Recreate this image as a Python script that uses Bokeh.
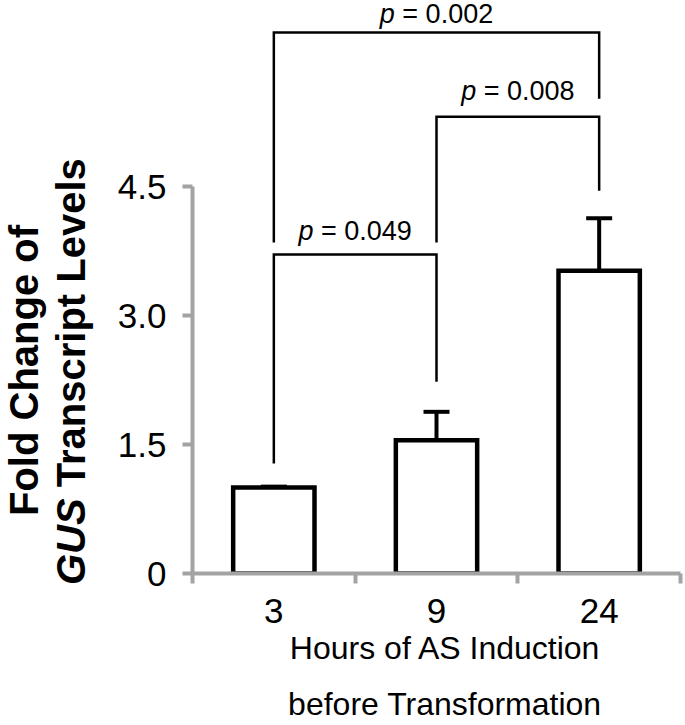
import math
from bokeh.plotting import figure
from bokeh.layouts import row, column
from bokeh.models import (Range1d, FixedTicker, LinearAxis, Whisker,
                          ColumnDataSource, TeeHead)
from bokeh.core.properties import value
from bokeh.embed import file_html
from bokeh.resources import INLINE

# ---------------- data ----------------
categories = ["3", "9", "24"]
means = [1.0, 1.55, 3.52]
errors = [0.01, 0.33, 0.61]

y_ticks = [0, 1.5, 3.0, 4.5]
y_tick_labels = ["0", "1.5", "3.0", "4.5"]

cmp_left = [0, 1, 0]
cmp_right = [1, 2, 2]
p_values = ["0.049", "0.008", "0.002"]
bracket_top = [3.71, 5.31, 6.29]
bracket_left_end = [1.28, 3.85, 3.85]
bracket_right_end = [2.23, 4.45, 5.52]
p_text_y = [3.88, 5.50, 6.40]

x_title_lines = ["Hours of AS Induction", "before Transformation"]
y_title_line1 = "Fold Change of"
y_title_gene = "GUS"
y_title_rest = "Transcript Levels"

# ---------------- layout constants ----------------
TOTAL_W, TOTAL_H = 685, 725
YT_W = 100                 # strip for the y-axis title (full height)
MAIN_W = TOTAL_W - YT_W
MAIN_H = 628
XT_H = TOTAL_H - MAIN_H    # strip for the x-axis title (under the plot)
M_LEFT, M_RIGHT, M_TOP = 92, 5, 0
M_BOTTOM = MAIN_H - 573
FRAME_W = MAIN_W - M_LEFT - M_RIGHT
FRAME_H = MAIN_H - M_TOP - M_BOTTOM
PX_PER_Y = 86.0
Y_MAX = FRAME_H / PX_PER_Y
PX_PER_X = FRAME_W / 3.0
BASE_FIX = 0.34            # measured drop of an "alphabetic" baseline, in em

FONT = "Liberation Sans"
GRAY = "#a3a3a3"

REG = {"p": 0.556, " ": 0.278, "=": 0.584, ".": 0.278, "H": 0.722, "o": 0.556,
       "u": 0.556, "r": 0.333, "s": 0.5, "f": 0.278, "A": 0.667, "S": 0.667,
       "I": 0.278, "n": 0.556, "d": 0.556, "c": 0.5, "t": 0.278, "i": 0.222,
       "b": 0.556, "e": 0.556, "T": 0.611, "a": 0.556, "m": 0.833}
for d in "0123456789":
    REG[d] = 0.556
BOLD = {"G": 0.778, "U": 0.722, "S": 0.667, " ": 0.278, "T": 0.611, "r": 0.389,
        "a": 0.556, "n": 0.611, "s": 0.556, "c": 0.556, "i": 0.278, "p": 0.611,
        "t": 0.333, "L": 0.611, "e": 0.556, "v": 0.556, "l": 0.278, "F": 0.611,
        "o": 0.611, "d": 0.611, "C": 0.722, "h": 0.611, "g": 0.611, "f": 0.333}


def tw(s, size, table):
    return sum(table.get(ch, 0.556) for ch in s) * size


def strip(w, h, xr, yr):
    f = figure(width=w, height=h, x_range=Range1d(*xr), y_range=Range1d(*yr),
               output_backend="svg", toolbar_location=None, min_border=0,
               min_border_left=0, min_border_right=0, min_border_top=0,
               min_border_bottom=0, x_axis_type=None, y_axis_type=None)
    f.outline_line_color = None
    f.background_fill_color = "white"
    f.border_fill_color = "white"
    return f


# ---------------- main plot ----------------
p = figure(width=MAIN_W, height=MAIN_H, x_range=Range1d(0, 3), y_range=Range1d(0, Y_MAX),
           output_backend="svg", toolbar_location=None, min_border=0,
           min_border_left=M_LEFT, min_border_right=M_RIGHT, min_border_top=M_TOP,
           min_border_bottom=M_BOTTOM, x_axis_type=None, y_axis_type=None)
p.outline_line_color = None
p.background_fill_color = "white"
p.border_fill_color = "white"

yax = LinearAxis(ticker=FixedTicker(ticks=y_ticks, minor_ticks=[]), bounds=(0, 4.5))
yax.major_label_overrides = {float(t): l for t, l in zip(y_ticks, y_tick_labels)}
yax.axis_line_color = GRAY
yax.axis_line_width = 4
yax.major_tick_line_color = GRAY
yax.major_tick_line_width = 4
yax.major_tick_out = 10
yax.major_tick_in = 0
yax.minor_tick_line_color = None
yax.major_label_text_font = FONT
yax.major_label_text_font_size = "35px"
yax.major_label_text_color = "black"
yax.major_label_standoff = 16
p.add_layout(yax, "left")

centers = [i + 0.5 for i in range(len(categories))]
xax = LinearAxis(ticker=FixedTicker(ticks=centers,
                                    minor_ticks=list(range(len(categories) + 1))),
                 bounds=(0, len(categories)))
xax.major_label_overrides = {float(c): lab for c, lab in zip(centers, categories)}
xax.axis_line_color = GRAY
xax.axis_line_width = 4
xax.major_tick_line_color = None
xax.major_tick_out = 0
xax.major_tick_in = 0
xax.minor_tick_line_color = GRAY
xax.minor_tick_line_width = 4
xax.minor_tick_out = 10
xax.minor_tick_in = 0
xax.major_label_text_font = FONT
xax.major_label_text_font_size = "35px"
xax.major_label_text_color = "black"
xax.major_label_standoff = 15
p.add_layout(xax, "below")

src = ColumnDataSource(dict(
    x=centers, top=means,
    upper=[m + e for m, e in zip(means, errors)],
    lower=[m - e for m, e in zip(means, errors)],
))
p.vbar(x="x", top="top", width=0.5, source=src, fill_color="white",
       line_color="black", line_width=4.5, line_join="miter")

wh = Whisker(base="x", upper="upper", lower="lower", source=src,
             line_color="black", line_width=4,
             upper_head=TeeHead(size=26, line_width=4, line_color="black"),
             lower_head=TeeHead(size=26, line_width=4, line_color="black"))
p.add_layout(wh)

xs, ys = [], []
for l, r, t, le, re_ in zip(cmp_left, cmp_right, bracket_top, bracket_left_end, bracket_right_end):
    xl, xr = centers[l], centers[r]
    xs.append([xl, xl, xr, xr])
    ys.append([le, t, t, re_])
p.multi_line(xs=xs, ys=ys, line_color="black", line_width=2.5, line_join="miter")

P_SIZE = 27
p_fix = BASE_FIX * P_SIZE / PX_PER_Y
px, py, pt, rx, ry, rt = [], [], [], [], [], []
for l, r, v, y in zip(cmp_left, cmp_right, p_values, p_text_y):
    cx = (centers[l] + centers[r]) / 2
    rest = "= " + v
    total = tw("p " + rest, P_SIZE, REG)
    x0 = cx - total / 2 / PX_PER_X
    px.append(x0); py.append(y + p_fix); pt.append("p")
    rx.append(x0 + tw("p ", P_SIZE, REG) / PX_PER_X); ry.append(y + p_fix); rt.append(rest)
p.text(x=px, y=py, text=pt, text_font=value(FONT), text_font_style="italic",
       text_font_size=f"{P_SIZE}px", text_align="left", text_baseline="alphabetic",
       text_color="black")
p.text(x=rx, y=ry, text=rt, text_font=value(FONT), text_font_style="normal",
       text_font_size=f"{P_SIZE}px", text_align="left", text_baseline="alphabetic",
       text_color="black")

# ---------------- y-axis title strip (rotated, bottom-to-top) ----------------
Y_TITLE_SIZE = 40
yfix = BASE_FIX * Y_TITLE_SIZE
yt = strip(YT_W, TOTAL_H, (0, YT_W), (0, TOTAL_H))
Y_CENTER = TOTAL_H - 370
rot = dict(angle=math.pi / 2, text_font=value(FONT),
           text_font_size=f"{Y_TITLE_SIZE}px",
           text_baseline="alphabetic", text_color="black")
yt.text(x=[37 - yfix], y=[Y_CENTER], text=[y_title_line1], text_font_style="bold",
        text_align="center", **rot)
w_gene = tw(y_title_gene + " ", Y_TITLE_SIZE, BOLD)
w_rest = tw(y_title_rest, Y_TITLE_SIZE, BOLD)
y_start = Y_CENTER - (w_gene + w_rest) / 2
yt.text(x=[84 - yfix], y=[y_start], text=[y_title_gene],
        text_font_style="bold italic", text_align="left", **rot)
yt.text(x=[84 - yfix], y=[y_start + w_gene], text=[y_title_rest],
        text_font_style="bold", text_align="left", **rot)

# ---------------- x-axis title strip ----------------
# the strip's frame is aligned with the main frame (page x 192..680),
# so its x range is expressed in page pixels over that span
X_TITLE_SIZE = 32
xfix = BASE_FIX * X_TITLE_SIZE
xt = strip(MAIN_W, XT_H, (YT_W + M_LEFT, TOTAL_W - M_RIGHT), (0, XT_H))
X_CENTER = 445
starts = [X_CENTER - tw(s, X_TITLE_SIZE, REG) / 2 for s in x_title_lines]
baselines = [658, 714]
xt.text(x=starts, y=[TOTAL_H - (b - xfix) for b in baselines],
        text=x_title_lines, text_font=value(FONT), text_font_size=f"{X_TITLE_SIZE}px",
        text_align="left", text_baseline="alphabetic", text_color="black")

layout = row(yt, column(p, xt, spacing=0), spacing=0)
open("out.html", "w").write(file_html(layout, INLINE))
